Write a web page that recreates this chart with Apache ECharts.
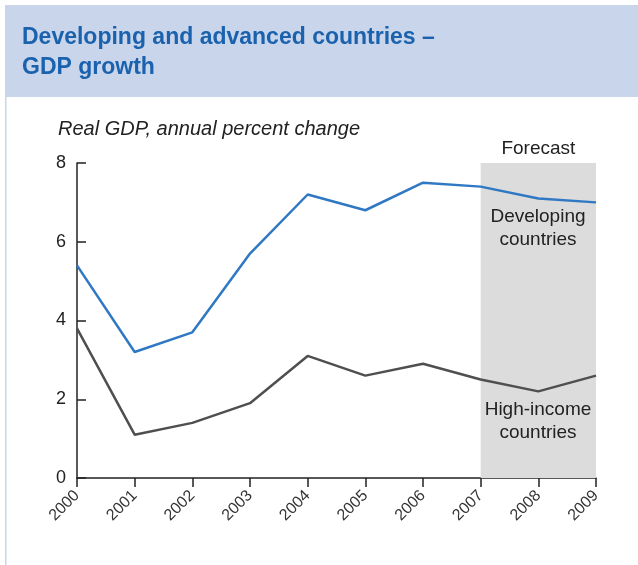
<!DOCTYPE html>
<html>
<head>
<meta charset="utf-8">
<script src="https://cdn.jsdelivr.net/npm/echarts@6/dist/echarts.min.js"></script>
<style>
  html, body { margin: 0; padding: 0; background: #fff; }
  #main { width: 638px; height: 565px; }
</style>
</head>
<body>
<div id="main"></div>
<script>
const years = ['2000', '2001', '2002', '2003', '2004', '2005', '2006', '2007', '2008', '2009']
const developing = [5.4, 3.2, 3.7, 5.7, 7.2, 6.8, 7.5, 7.4, 7.1, 7.0]
const highIncome = [3.8, 1.1, 1.4, 1.9, 3.1, 2.6, 2.9, 2.5, 2.2, 2.6]
const forecastRange = ['2007', '2009']

const chart = echarts.init(document.getElementById('main'))
const font = 'Liberation Sans, Arial, sans-serif'

chart.setOption({
  animation: false,
  textStyle: { fontFamily: font },
  graphic: [
    // title banner
    {
      type: 'rect',
      shape: { x: 5, y: 5, width: 633, height: 92 },
      style: { fill: '#c9d5eb' },
      silent: true,
    },
    {
      type: 'rect',
      shape: { x: 5, y: 97, width: 1.5, height: 468 },
      style: { fill: '#c9d5eb' },
      silent: true,
    },
    {
      type: 'text',
      left: 22,
      top: 23,
      style: {
        text: 'Developing and advanced countries –\nGDP growth',
        font: 'bold 23px ' + font,
        fill: '#1a62ad',
        lineHeight: 30,
      },
    },
    {
      type: 'text',
      left: 58,
      top: 119,
      style: {
        text: 'Real GDP, annual percent change',
        font: 'italic 20px ' + font,
        fill: '#222',
      },
    },
    // series labels inside the forecast band
    {
      type: 'text',
      x: 538,
      y: 205,
      z: 100,
      style: {
        text: 'Developing\ncountries',
        font: '19px ' + font,
        fill: '#222',
        align: 'center',
        lineHeight: 23,
      },
    },
    {
      type: 'text',
      x: 538,
      y: 398,
      z: 100,
      style: {
        text: 'High-income\ncountries',
        font: '19px ' + font,
        fill: '#222',
        align: 'center',
        lineHeight: 23,
      },
    },
  ],
  grid: { left: 77, right: 42, top: 163, bottom: 87, containLabel: false },
  xAxis: {
    type: 'category',
    data: years,
    boundaryGap: false,
    axisLine: { lineStyle: { color: '#222', width: 1.5 } },
    axisTick: { alignWithLabel: true, length: 9, lineStyle: { color: '#222', width: 1.5 } },
    axisLabel: { rotate: 45, color: '#333', fontSize: 16, margin: 15, interval: 0 },
    splitLine: { show: false },
  },
  yAxis: {
    type: 'value',
    min: 0,
    max: 8,
    interval: 2,
    axisLine: { show: true, lineStyle: { color: '#222', width: 1.5 } },
    axisTick: { show: true, inside: true, length: 9, lineStyle: { color: '#222', width: 1.5 } },
    axisLabel: { color: '#222', fontSize: 18, margin: 11 },
    splitLine: { show: false },
  },
  series: [
    {
      name: 'Developing countries',
      type: 'line',
      data: developing,
      symbol: 'none',
      lineStyle: { color: '#2f78c4', width: 2.5 },
      z: 3,
      markArea: {
        silent: true,
        itemStyle: { color: '#dcdcdc' },
        label: { show: true, position: 'top', color: '#222', fontSize: 19, distance: 5 },
        data: [[{ name: 'Forecast', xAxis: forecastRange[0] }, { xAxis: forecastRange[1] }]],
      },
    },
    {
      name: 'High-income countries',
      type: 'line',
      data: highIncome,
      symbol: 'none',
      lineStyle: { color: '#4f4f4f', width: 2.5 },
      z: 3,
    },
  ],
})
</script>
</body>
</html>
